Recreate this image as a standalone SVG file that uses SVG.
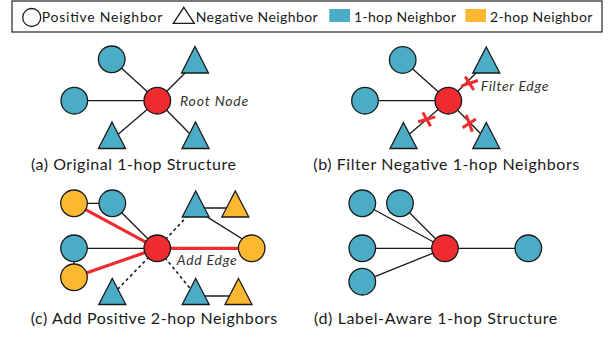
<svg xmlns="http://www.w3.org/2000/svg" width="611" height="337" viewBox="0 0 611 337">
<style>
.bg{fill:#ffffff}
.box{fill:none;stroke:#333;stroke-width:1.3}
.leg{font-family:Lato,"Open Sans",sans-serif;font-size:14px;fill:#1a1a1a}
.cap{font-family:Lato,"Open Sans",sans-serif;font-size:16px;fill:#1a1a1a}
.lab{font-family:Lato,"Open Sans",sans-serif;font-size:14px;font-style:italic;fill:#333}
.blue{fill:#4BACC6;stroke:#1a1a1a;stroke-width:1.3}
.org{fill:#FCB830;stroke:#1a1a1a;stroke-width:1.3}
.red{fill:#EE2B2F;stroke:#1a1a1a;stroke-width:1.3}
.hol{fill:#fff;stroke:#1a1a1a;stroke-width:1.3}
.e{stroke:#1a1a1a;stroke-width:1.3;fill:none}
.er{stroke:#EE2B2F;stroke-width:3.2;fill:none}
.ed{stroke:#1a1a1a;stroke-width:1.6;stroke-dasharray:3 3;fill:none}
.x{stroke:#EE2B2F;stroke-width:3;fill:none}
</style>
<defs>
<g id="xm">
<line x1="1.6" y1="-7.8" x2="-1.6" y2="7.8"/>
<line x1="-8" y1="-3.8" x2="8" y2="3.8"/>
</g>
</defs>
<rect class="bg" x="0" y="0" width="611" height="337"/>

<g id="legend">
<rect class="box" x="12" y="1" width="590" height="31"/>
<circle class="hol" cx="31.7" cy="17.5" r="9"/>
<text class="leg" x="41.7" y="21.5" textLength="120.6">Positive Neighbor</text>
<polygon class="hol" points="183.8,7.3 194.3,23.3 173.3,23.3"/>
<text class="leg" x="195.7" y="21.5" textLength="122">Negative Neighbor</text>
<rect x="329.3" y="9" width="20.7" height="13" fill="#4BACC6"/>
<text class="leg" x="354" y="21.5" textLength="102">1-hop Neighbor</text>
<rect x="465.3" y="9" width="20.7" height="13" fill="#FCB830"/>
<text class="leg" x="490" y="21.5" textLength="102.3">2-hop Neighbor</text>
</g>

<g id="connectors">
<!-- panel a -->
<line class="e" x1="157.3" y1="100.7" x2="111.7" y2="59.3"/>
<line class="e" x1="157.3" y1="100.7" x2="74.3" y2="100.7"/>
<line class="e" x1="157.3" y1="100.7" x2="192" y2="66"/>
<line class="e" x1="157.3" y1="100.7" x2="115" y2="137"/>
<line class="e" x1="157.3" y1="100.7" x2="193" y2="137"/>
<!-- panel b -->
<line class="e" x1="448.3" y1="100.7" x2="402.7" y2="60"/>
<line class="e" x1="448.3" y1="100.7" x2="365" y2="100.7"/>
<line class="e" x1="448.3" y1="100.7" x2="483" y2="66"/>
<line class="e" x1="448.3" y1="100.7" x2="406" y2="137"/>
<line class="e" x1="448.3" y1="100.7" x2="484" y2="137"/>
<!-- panel c -->
<line class="e" x1="74" y1="203.3" x2="112.3" y2="203.3"/>
<line class="e" x1="112.3" y1="203.3" x2="157.3" y2="248.3"/>
<line class="e" x1="74" y1="248.3" x2="157.3" y2="248.3"/>
<line class="e" x1="74" y1="248.3" x2="74" y2="277.3"/>
<line class="er" x1="74" y1="203.3" x2="157.3" y2="248.3"/>
<line class="er" x1="74" y1="277.3" x2="157.3" y2="248.3"/>
<line class="er" x1="157.3" y1="248.3" x2="251.7" y2="248.3"/>
<line class="e" x1="195.7" y1="208" x2="235.3" y2="208"/>
<line class="e" x1="205" y1="215.6" x2="251.7" y2="244.8"/>
<line class="ed" x1="157.3" y1="248.3" x2="192" y2="211"/>
<line class="ed" x1="157.3" y1="248.3" x2="115" y2="292"/>
<line class="ed" x1="157.3" y1="248.3" x2="193" y2="292"/>
<line class="e" x1="195.7" y1="296" x2="238.5" y2="296"/>
<!-- panel d -->
<line class="e" x1="445" y1="248.3" x2="362.3" y2="203.3"/>
<line class="e" x1="445" y1="248.3" x2="400" y2="203.3"/>
<line class="e" x1="445" y1="248.3" x2="362.3" y2="248.3"/>
<line class="e" x1="445" y1="248.3" x2="362.3" y2="281.7"/>
<line class="e" x1="445" y1="248.3" x2="528.3" y2="248.3"/>
</g>

<g id="panel-a">
<g id="a-n1"><circle class="blue" cx="111.7" cy="59.3" r="13.3"/></g>
<g id="a-n2"><circle class="blue" cx="74.3" cy="100.7" r="13.3"/></g>
<g id="a-n3"><polygon class="blue" points="195,46.5 208.5,73 181.5,73"/></g>
<g id="a-n4"><polygon class="blue" points="112,122 125.5,148.5 98.5,148.5"/></g>
<g id="a-n5"><polygon class="blue" points="195.5,122 209,148.5 182,148.5"/></g>
<g id="a-root"><circle class="red" cx="157.3" cy="100.7" r="13.3"/></g>
<text class="lab" x="180" y="106" textLength="68.3">Root Node</text>
<text class="cap" x="31" y="170" textLength="205">(a) Original 1-hop Structure</text>
</g>

<g id="panel-b">
<g id="b-n1"><circle class="blue" cx="402.7" cy="60" r="13.3"/></g>
<g id="b-n2"><circle class="blue" cx="365" cy="100.7" r="13.3"/></g>
<g id="b-n3"><polygon class="blue" points="486.3,47 499.8,73 472.8,73"/></g>
<g id="b-n4"><polygon class="blue" points="403.5,122.5 417,148.5 390,148.5"/></g>
<g id="b-n5"><polygon class="blue" points="486.3,122.5 499.8,148.5 472.8,148.5"/></g>
<g id="b-root"><circle class="red" cx="448.3" cy="100.7" r="13.3"/></g>
<g class="x">
<use href="#xm" transform="translate(469.5,83.3) rotate(-44)"/>
<use href="#xm" transform="translate(426.7,119.3) rotate(-41)"/>
<use href="#xm" transform="translate(469.3,123.3) rotate(45)"/>
</g>
<text class="lab" x="480.7" y="91" textLength="67.7">Filter Edge</text>
<text class="cap" x="313.3" y="170" textLength="266">(b) Filter Negative 1-hop Neighbors</text>
</g>

<g id="panel-c">
<g id="c-o1"><circle class="org" cx="74" cy="203.3" r="13.3"/></g>
<g id="c-b1"><circle class="blue" cx="112.3" cy="203.3" r="13.3"/></g>
<g id="c-b2"><circle class="blue" cx="74" cy="248.3" r="13.3"/></g>
<g id="c-o2"><circle class="org" cx="74" cy="277.3" r="13.3"/></g>
<g id="c-o3"><circle class="org" cx="251.7" cy="248.3" r="13.3"/></g>
<g id="c-t1"><polygon class="blue" points="195.7,191 209.2,217 182.2,217"/></g>
<g id="c-t2"><polygon class="org" points="235.3,191 248.8,217 221.8,217"/></g>
<g id="c-t3"><polygon class="blue" points="112.3,278.5 125.8,304.5 98.8,304.5"/></g>
<g id="c-t4"><polygon class="blue" points="195.7,278.5 209.2,304.5 182.2,304.5"/></g>
<g id="c-t5"><polygon class="org" points="238.5,278.5 252,304.5 225,304.5"/></g>
<g id="c-root"><circle class="red" cx="157.3" cy="248.3" r="13.3"/></g>
<text class="lab" x="176.7" y="265" textLength="60">Add Edge</text>
<text class="cap" x="30.7" y="323.5" textLength="246.6">(c) Add Positive 2-hop Neighbors</text>
</g>

<g id="panel-d">
<g id="d-n1"><circle class="blue" cx="362.3" cy="203.3" r="13.3"/></g>
<g id="d-n2"><circle class="blue" cx="400" cy="203.3" r="13.3"/></g>
<g id="d-n3"><circle class="blue" cx="362.3" cy="248.3" r="13.3"/></g>
<g id="d-n4"><circle class="blue" cx="362.3" cy="281.7" r="13.3"/></g>
<g id="d-n5"><circle class="blue" cx="528.3" cy="248.3" r="13.3"/></g>
<g id="d-root"><circle class="red" cx="445" cy="248.3" r="13.3"/></g>
<text class="cap" x="314" y="323.5" textLength="243.3">(d) Label-Aware 1-hop Structure</text>
</g>
</svg>
